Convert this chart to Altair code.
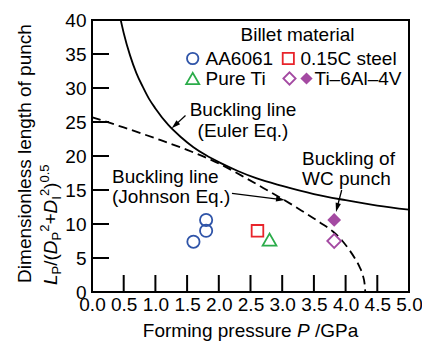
import math
import altair as alt
import pandas as pd

FONT = "Liberation Sans"

# ---------------- data ----------------
x_ticks = [0.0, 0.5, 1.0, 1.5, 2.0, 2.5, 3.0, 3.5, 4.0, 4.5, 5.0]
y_ticks = [0, 5, 10, 15, 20, 25, 30, 35, 40]

euler_p = [0.453, 0.5, 0.6, 0.7, 0.8, 0.9, 1.0, 1.2, 1.4, 1.6, 1.8, 2.0, 2.3, 2.6, 3.0, 3.5, 4.0, 4.5, 5.0]
euler_v = [40.0, 38.1, 34.8, 32.2, 30.2, 28.4, 27.0, 24.6, 22.8, 21.3, 20.1, 19.1, 17.8, 16.7, 15.6, 14.4, 13.5, 12.7, 12.1]

johnson_p = [0.0, 0.5, 1.0, 1.5, 2.0, 2.4, 2.7, 3.0, 3.3, 3.6, 3.8, 3.95, 4.05, 4.15, 4.22, 4.27, 4.30, 4.31]
johnson_v = [25.7, 24.2, 22.6, 20.9, 18.9, 16.9, 15.3, 13.7, 12.0, 10.2, 8.9, 7.5, 6.3, 4.9, 3.7, 2.5, 1.2, 0.0]

aa_p, aa_v = [1.60, 1.80, 1.80], [7.4, 9.0, 10.6]
steel_p, steel_v = [2.61], [9.0]
pureti_p, pureti_v = [2.80], [7.7]
ti64_open_p, ti64_open_v = [3.82], [7.5]
ti64_fill_p, ti64_fill_v = [3.82], [10.6]

BLUE, RED, GREEN, PURPLE = "#2f54a8", "#e8242b", "#2bac4a", "#a44aa2"

W, H = 317, 272

# ---------------- helpers ----------------
CW = {" ": 278, "(": 333, ")": 333, "+": 584, ".": 278, "/": 278, "I": 278, "L": 556,
      "P": 667, "D": 722, "2": 556, "0": 556, "5": 556, "F": 611, "G": 778, "a": 556,
      "e": 556, "g": 556, "i": 222, "m": 833, "n": 556, "o": 556, "p": 556, "r": 333,
      "s": 500, "u": 556}


def tw(s, size):
    return sum(CW.get(c, 556) for c in s) * size / 1000.0


one = pd.DataFrame({"k": [0]})


def txt(s, x, y, size=19, align="left", baseline="alphabetic", style="normal", angle=0):
    kw = dict(font=FONT, fontSize=size, align=align, baseline=baseline,
              fontStyle=style, color="black")
    if angle:
        kw["angle"] = angle
    return alt.Chart(one).mark_text(**kw).encode(
        x=alt.value(x), y=alt.value(y), text=alt.value(s))


def sym(shape, x, y, color, filled=False, size=140):
    return alt.Chart(one).mark_point(
        shape=shape, filled=filled, size=size, strokeWidth=1.8, color=color, opacity=1
    ).encode(x=alt.value(x), y=alt.value(y))


ARROW = "M0,-1L0.6,1L-0.6,1Z"


def arrow(x0, y0, x1, y1, head=9):
    dx, dy = x1 - x0, y1 - y0
    L = math.hypot(dx, dy)
    ux, uy = dx / L, dy / L
    ang = math.degrees(math.atan2(dx, -dy)) % 360
    line = alt.Chart(one).mark_rule(color="black", strokeWidth=1.3).encode(
        x=alt.value(x0), y=alt.value(y0),
        x2=alt.value(x1 - ux * head * 0.6), y2=alt.value(y1 - uy * head * 0.6))
    tip = alt.Chart(one).mark_point(
        shape=ARROW, filled=True, color="black", opacity=1, size=head * head,
        angle=ang, strokeWidth=0
    ).encode(x=alt.value(x1 - ux * head / 2), y=alt.value(y1 - uy * head / 2))
    return [line, tip]


x_scale = alt.Scale(domain=[0, 5], nice=False, zero=False)
y_scale = alt.Scale(domain=[0, 40], nice=False, zero=False)
xax = alt.Axis(values=x_ticks, format=".1f", tickSize=0, domain=False, grid=False,
               labelFont=FONT, labelFontSize=19, labelColor="black", labelPadding=3,
               labelFlush=False, labelOverlap=False, title=None)
yax = alt.Axis(values=y_ticks, format="d", tickSize=0, domain=False, grid=False,
               labelFont=FONT, labelFontSize=19, labelColor="black", labelPadding=6,
               labelFlush=False, labelOverlap=False, title=None)
X = alt.X("p:Q", scale=x_scale, axis=xax)
Y = alt.Y("v:Q", scale=y_scale, axis=yax)

layers = []

euler_df = pd.DataFrame({"p": euler_p, "v": euler_v})
johnson_df = pd.DataFrame({"p": johnson_p, "v": johnson_v})
layers.append(alt.Chart(euler_df).mark_line(color="black", strokeWidth=1.8,
                                            interpolate="monotone", clip=True).encode(x=X, y=Y))
layers.append(alt.Chart(johnson_df).mark_line(color="black", strokeWidth=1.8, strokeDash=[9, 5],
                                              interpolate="monotone", clip=True).encode(x=X, y=Y))

# inward ticks
xt_df = pd.DataFrame({"p": [t for t in x_ticks if 0 < t < 5]})
yt_df = pd.DataFrame({"v": y_ticks})
layers.append(alt.Chart(xt_df).mark_rule(color="black", strokeWidth=2).encode(
    x=X, y=alt.value(H), y2=alt.value(H - 17)))
layers.append(alt.Chart(yt_df).mark_rule(color="black", strokeWidth=2).encode(
    y=Y, x=alt.value(0), x2=alt.value(17)))

# data points
def pts(p, v, shape, color, filled=False, size=140):
    return alt.Chart(pd.DataFrame({"p": p, "v": v})).mark_point(
        shape=shape, filled=filled, size=size, strokeWidth=1.8, color=color, opacity=1
    ).encode(x=X, y=Y)

layers.append(pts(aa_p, aa_v, "circle", BLUE, size=150))
layers.append(pts(steel_p, steel_v, "square", RED, size=135))
layers.append(pts(pureti_p, pureti_v, "triangle-up", GREEN, size=190))
layers.append(pts(ti64_open_p, ti64_open_v, "diamond", PURPLE, size=190))
layers.append(pts(ti64_fill_p, ti64_fill_v, "diamond", PURPLE, filled=True, size=190))

# legend (inside plot)
layers.append(txt("Billet material", 205.5, 15, align="center", baseline="middle"))
r1, r2 = 38.5, 58.5
layers.append(sym("circle", 100.7, r1, BLUE, size=130))
layers.append(txt("AA6061", 113.5, r1, baseline="middle"))
layers.append(sym("square", 196.3, r1, RED, size=125))
layers.append(txt("0.15C steel", 208.5, r1, baseline="middle"))
layers.append(sym("triangle-up", 100.7, r2, GREEN, size=170))
layers.append(txt("Pure Ti", 113.5, r2, baseline="middle"))
layers.append(sym("diamond", 197.5, r2, PURPLE, size=150))
layers.append(sym("diamond", 214.5, r2, PURPLE, filled=True, size=150))
layers.append(txt("Ti\u20136Al\u20134V", 222.5, r2, baseline="middle"))

# annotations
layers.append(txt("Buckling line", 151, 95.7, align="center"))
layers.append(txt("(Euler Eq.)", 151, 116.7, align="center"))
layers += arrow(93.5, 95.5, 79.7, 108.3)

layers.append(txt("Buckling line", 20, 163.3))
layers.append(txt("(Johnson Eq.)", 20, 183.3))
layers += arrow(140, 173.3, 193, 180)

layers.append(txt("Buckling of", 210, 145.2))
layers.append(txt("WC punch", 210, 164.5))
layers += arrow(249.7, 170, 244, 192)

# x-axis title with italic P (spaces handled by position, SVG drops leading blanks)
xt_segs = [("Forming pressure", "normal", tw("Forming pressure ", 19)),
           ("P", "italic", tw("P ", 19)),
           ("/GPa", "normal", tw("/GPa", 19))]
total = sum(w for _, _, w in xt_segs)
cx = W / 2 - total / 2
for s, st, w in xt_segs:
    layers.append(txt(s, cx, 316.7, style=st))
    cx += w

# y-axis title, line 1
layers.append(txt("Dimensionless length of punch", -61, 133.5, align="center", angle=270))

# y-axis title, line 2 with sub/superscripts (rotated, reads upward)
base = -35.5
segs = [("L", 19, "italic", 0), ("P", 13, "normal", 4), ("/(", 19, "normal", 0),
        ("D", 19, "italic", 0), ("P", 13, "normal", 4), ("2", 13, "normal", -8),
        ("+", 19, "normal", 0), ("D", 19, "italic", 0), ("I", 13, "normal", 4),
        ("2", 13, "normal", -8), (")", 19, "normal", 0), ("0.5", 13, "normal", -8)]
yy = 265
for s, sz, st, sh in segs:
    layers.append(txt(s, base + sh, yy, size=sz, style=st, angle=270))
    yy -= tw(s, sz)

chart = alt.layer(*layers).properties(
    width=W, height=H,
    autosize=alt.AutoSizeParams(type="none"),
    padding={"left": 84, "top": 12, "right": 13, "bottom": 49},
).configure_view(stroke="black", strokeWidth=2)

chart.save("out.html", embed_options={"renderer": "svg", "actions": False})
